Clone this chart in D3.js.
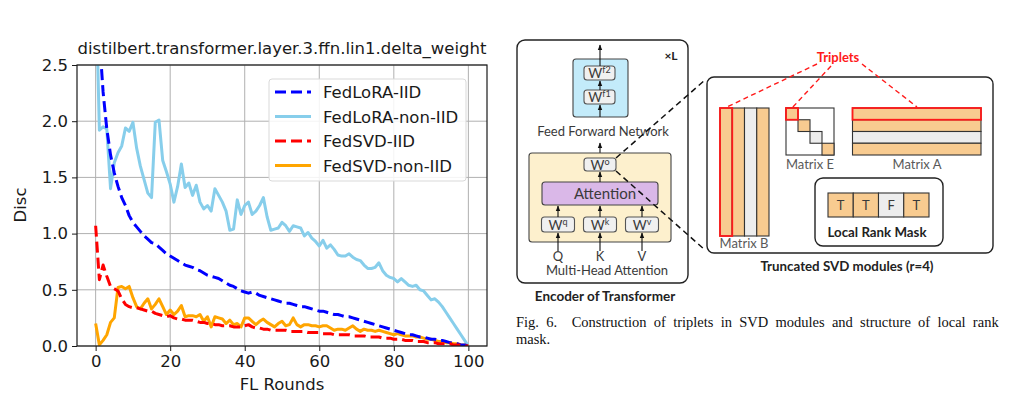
<!DOCTYPE html>
<html>
<head>
<meta charset="utf-8">
<script src="https://cdn.jsdelivr.net/npm/d3@7"></script>
<style>
  body { margin: 0; background: #fff; }
  svg { display: block; }
</style>
</head>
<body>
<svg id="fig" width="1019" height="408"></svg>
<script>
// ---- chart data ----
const rounds = d3.range(0, 101);
const fedLoraIID = [3.6,2.75,2.26,1.93,1.70,1.54,1.42,1.32,1.25,1.16,1.10,1.06,1.02,0.98,0.95,0.92,0.91,0.88,0.85,0.82,
  0.80,0.78,0.76,0.74,0.72,0.71,0.70,0.68,0.67,0.65,0.63,0.62,0.61,0.60,0.58,0.56,0.54,0.53,0.51,0.49,
  0.48,0.47,0.48,0.47,0.45,0.44,0.43,0.42,0.41,0.40,0.39,0.38,0.38,0.37,0.36,0.35,0.35,0.34,0.33,0.32,
  0.31,0.31,0.30,0.29,0.28,0.28,0.27,0.26,0.26,0.25,0.24,0.23,0.22,0.21,0.20,0.19,0.18,0.17,0.16,0.15,
  0.14,0.13,0.12,0.11,0.10,0.10,0.09,0.08,0.08,0.07,0.06,0.06,0.05,0.05,0.04,0.03,0.03,0.02,0.01,0.01,0];
const fedLoraNonIID = [3.3,1.92,1.95,1.93,1.40,1.63,1.72,1.78,1.94,1.91,1.99,1.76,1.60,1.48,1.36,1.32,1.99,2.01,1.65,1.55,
  1.44,1.28,1.42,1.62,1.41,1.45,1.34,1.43,1.28,1.22,1.25,1.20,1.40,1.34,1.28,1.20,1.03,1.04,1.30,1.17,
  1.25,1.28,1.17,1.20,1.25,1.32,1.15,1.03,1.04,1.05,1.10,1.07,1.02,1.07,1.06,1.05,0.98,1.01,0.96,0.93,
  0.89,0.94,0.87,0.90,0.86,0.81,0.80,0.80,0.82,0.79,0.77,0.76,0.72,0.69,0.69,0.70,0.74,0.67,0.63,0.61,
  0.60,0.57,0.60,0.57,0.54,0.53,0.54,0.50,0.49,0.45,0.41,0.42,0.39,0.35,0.30,0.25,0.20,0.15,0.10,0.05,0];
const fedSvdIID = [1.07,0.59,0.72,0.62,0.53,0.51,0.49,0.42,0.37,0.35,0.34,0.34,0.33,0.32,0.31,0.31,0.29,0.28,0.27,0.26,
  0.27,0.25,0.24,0.24,0.23,0.23,0.23,0.22,0.21,0.21,0.20,0.20,0.19,0.19,0.18,0.18,0.18,0.17,0.17,0.17,
  0.18,0.19,0.17,0.16,0.16,0.15,0.15,0.14,0.14,0.14,0.14,0.14,0.13,0.13,0.13,0.13,0.13,0.12,0.12,0.12,
  0.12,0.11,0.11,0.11,0.10,0.10,0.10,0.10,0.10,0.09,0.09,0.09,0.09,0.08,0.08,0.08,0.08,0.07,0.07,0.07,
  0.06,0.06,0.06,0.05,0.05,0.05,0.04,0.04,0.04,0.03,0.03,0.03,0.02,0.02,0.02,0.02,0.01,0.01,0.01,0.0,0];
const fedSvdNonIID = [0.20,0.01,0.05,0.10,0.21,0.25,0.52,0.53,0.51,0.53,0.43,0.35,0.33,0.38,0.42,0.33,0.37,0.42,0.35,0.28,
  0.32,0.28,0.31,0.36,0.26,0.27,0.27,0.26,0.28,0.22,0.26,0.17,0.26,0.25,0.24,0.20,0.23,0.19,0.20,0.17,
  0.25,0.25,0.22,0.19,0.22,0.24,0.21,0.19,0.17,0.20,0.22,0.18,0.19,0.25,0.19,0.17,0.19,0.19,0.18,0.18,
  0.17,0.18,0.18,0.16,0.14,0.15,0.15,0.14,0.16,0.18,0.15,0.13,0.15,0.14,0.14,0.13,0.14,0.13,0.12,0.11,
  0.10,0.11,0.10,0.09,0.09,0.09,0.08,0.08,0.07,0.06,0.06,0.05,0.04,0.04,0.03,0.03,0.02,0.02,0.01,0.01,0];
const seriesNames = ["FedLoRA-IID", "FedLoRA-non-IID", "FedSVD-IID", "FedSVD-non-IID"];
const seriesValues = [fedLoraIID, fedLoraNonIID, fedSvdIID, fedSvdNonIID];
const xTicks = [0, 20, 40, 60, 80, 100];
const yTicks = [0, 0.5, 1.0, 1.5, 2.0, 2.5];

// ---- diagram labels ----
const matrixRanks = [true, true, false, true];   // kept / dropped rank
const maskLabels = ["T", "T", "F", "T"];

const svg = d3.select("#fig");
const colors = ["#0000ff", "#87ceeb", "#ff0000", "#ffa500"];
const dashes = ["11,5", null, "11,5", null];

// ================= line chart =================
const box = {left: 77, right: 487, top: 65, bottom: 346};
const x = d3.scaleLinear().domain([-5, 105]).range([box.left, box.right]);
const y = d3.scaleLinear().domain([0, 2.5]).range([box.bottom, box.top]);
const chartFont = "DejaVu Sans, sans-serif";
const fs = 16.5;

svg.append("defs").append("clipPath").attr("id", "plotclip")
  .append("rect").attr("x", box.left).attr("y", box.top)
  .attr("width", box.right - box.left).attr("height", box.bottom - box.top);

// grid
const grid = svg.append("g");
grid.selectAll(".gx").data(xTicks).join("line")
  .attr("x1", d => x(d)).attr("x2", d => x(d))
  .attr("y1", box.top).attr("y2", box.bottom)
  .attr("stroke", "#b0b0b0").attr("stroke-width", 1);
grid.selectAll(".gy").data(yTicks).join("line")
  .attr("x1", box.left).attr("x2", box.right)
  .attr("y1", d => y(d)).attr("y2", d => y(d))
  .attr("stroke", "#b0b0b0").attr("stroke-width", 1);

// lines
const line = d3.line().x((d, i) => x(rounds[i])).y(d => y(d));
const plot = svg.append("g").attr("clip-path", "url(#plotclip)");
[1, 3, 0, 2].forEach(k => {
  plot.append("path")
    .datum(seriesValues[k])
    .attr("fill", "none")
    .attr("stroke", colors[k])
    .attr("stroke-width", 3)
    .attr("stroke-dasharray", dashes[k])
    .attr("stroke-linejoin", "round")
    .attr("d", line);
});

// axes
const xAxis = svg.append("g").attr("transform", `translate(0,${box.bottom})`)
  .call(d3.axisBottom(x).tickValues(xTicks).tickSize(5).tickPadding(4));
const yAxis = svg.append("g").attr("transform", `translate(${box.left},0)`)
  .call(d3.axisLeft(y).tickValues(yTicks).tickFormat(d3.format(".1f")).tickSize(5).tickPadding(4));
[xAxis, yAxis].forEach(a => {
  a.select(".domain").remove();
  a.selectAll("text").attr("font-family", chartFont).attr("font-size", fs).attr("fill", "#1a1a1a");
  a.selectAll("line").attr("stroke", "#1a1a1a");
});
svg.append("rect").attr("x", box.left).attr("y", box.top)
  .attr("width", box.right - box.left).attr("height", box.bottom - box.top)
  .attr("fill", "none").attr("stroke", "#1a1a1a").attr("stroke-width", 1.2);

svg.append("text").attr("x", (box.left + box.right) / 2).attr("y", 54)
  .attr("text-anchor", "middle").attr("font-family", chartFont).attr("font-size", fs)
  .attr("fill", "#1a1a1a")
  .text("distilbert.transformer.layer.3.ffn.lin1.delta_weight");
svg.append("text").attr("x", (box.left + box.right) / 2).attr("y", 390)
  .attr("text-anchor", "middle").attr("font-family", chartFont).attr("font-size", fs)
  .attr("fill", "#1a1a1a").text("FL Rounds");
svg.append("text").attr("transform", "translate(26,205) rotate(-90)")
  .attr("text-anchor", "middle").attr("font-family", chartFont).attr("font-size", fs)
  .attr("fill", "#1a1a1a").text("Disc");

// legend
const lg = svg.append("g");
lg.append("rect").attr("x", 269).attr("y", 79).attr("width", 197).attr("height", 102)
  .attr("rx", 3).attr("fill", "#fff").attr("fill-opacity", 0.85)
  .attr("stroke", "#d9d9d9").attr("stroke-width", 1);
seriesNames.forEach((name, i) => {
  const cy = 92 + i * 24.5;
  lg.append("line").attr("x1", 275).attr("x2", 311).attr("y1", cy).attr("y2", cy)
    .attr("stroke", colors[i]).attr("stroke-width", 3).attr("stroke-dasharray", dashes[i]);
  lg.append("text").attr("x", 323).attr("y", cy + 6)
    .attr("font-family", chartFont).attr("font-size", fs).attr("fill", "#1a1a1a").text(name);
});

// ================= diagram =================
const dFont = "Lato, 'Open Sans', sans-serif";
const orange = "#f8cb90", grey = "#ededed", ink = "#3a3a3a";
const defs = svg.select("defs");
defs.append("marker").attr("id", "arr").attr("viewBox", "0 0 10 10")
  .attr("refX", 9).attr("refY", 5).attr("markerWidth", 5).attr("markerHeight", 5)
  .attr("orient", "auto")
  .append("path").attr("d", "M0,1 L10,5 L0,9 Z").attr("fill", "#111");

const dg = svg.append("g");
function rrect(x0, y0, w, h, r, fill, stroke, sw) {
  return dg.append("rect").attr("x", x0).attr("y", y0).attr("width", w).attr("height", h)
    .attr("rx", r).attr("fill", fill).attr("stroke", stroke).attr("stroke-width", sw);
}
function arrow(x0, y0, x1, y1) {
  dg.append("line").attr("x1", x0).attr("y1", y0).attr("x2", x1).attr("y2", y1)
    .attr("stroke", "#111").attr("stroke-width", 1.1).attr("marker-end", "url(#arr)");
}
function label(tx, ty, txt, size, opts = {}) {
  return dg.append("text").attr("x", tx).attr("y", ty).attr("text-anchor", "middle")
    .attr("font-family", dFont).attr("font-size", size)
    .attr("font-weight", opts.bold ? "bold" : "normal")
    .attr("fill", opts.fill || ink).text(txt);
}
function wbox(x0, y0, w, h, sup) {
  rrect(x0, y0, w, h, 3, "#f0f0f0", "#555", 1.1);
  const t = label(x0 + w / 2, y0 + h / 2 + 5, "W", 13.5);
  t.append("tspan").attr("font-size", 9).attr("baseline-shift", "super").text(sup);
}

// encoder
rrect(517, 40, 171, 243, 8, "#fff", "#222", 1.4);
label(671, 60, "×L", 12, {bold: true, fill: "#222"});
rrect(573, 59, 55, 58, 3, "#c3ebfa", "#444", 1.1);
wbox(584, 66, 31, 14, "f2");
wbox(584, 90, 31, 14, "f1");
arrow(600, 66, 600, 45);
arrow(600, 90, 600, 81);
arrow(600, 117, 600, 105);
label(603, 136, "Feed Forward Network", 13);
arrow(600, 158, 600, 143);

rrect(529, 153, 142, 89, 3, "#fdf0cd", "#444", 1.1);
wbox(584, 158, 32, 13, "o");
rrect(542, 182, 116, 23, 3, "#dab8e8", "#444", 1.1);
label(605, 198.5, "Attention", 15);
arrow(600, 182, 600, 172);
const qkv = [["q", "Q", 558], ["k", "K", 600], ["v", "V", 642]];
qkv.forEach(([s, l, cx]) => {
  wbox(cx - 16.5, 217, 33, 15, s);
  arrow(cx, 217, cx, 206);
  arrow(cx, 251, cx, 233);
  label(cx, 260.5, l, 13);
});
label(607, 275, "Multi-Head Attention", 13);
label(605, 301, "Encoder of Transformer", 13.5, {bold: true, fill: "#222"});

// black dashed zoom lines
dg.append("line").attr("x1", 616).attr("y1", 158).attr("x2", 705).attr("y2", 80)
  .attr("stroke", "#111").attr("stroke-width", 1.5).attr("stroke-dasharray", "6,4");
dg.append("line").attr("x1", 616).attr("y1", 171).attr("x2", 705).attr("y2", 250)
  .attr("stroke", "#111").attr("stroke-width", 1.5).attr("stroke-dasharray", "6,4");

// truncated SVD box
rrect(707, 77, 286, 176, 7, "#fff", "#222", 1.4);
const bx = d3.scaleBand().domain(d3.range(4)).range([720, 769]);
const ay = d3.scaleBand().domain(d3.range(4)).range([108, 155]);
const ed = d3.scaleBand().domain(d3.range(4)).range([786, 834]);
const edy = d3.scaleBand().domain(d3.range(4)).range([108, 155]);
matrixRanks.forEach((kept, i) => {
  const f = kept ? orange : grey;
  rrect(bx(i), 108, bx.bandwidth(), 128, 0, f, "#333", 1.1);
  rrect(852.5, ay(i), 128.5, ay.bandwidth(), 0, f, "#333", 1.1);
});
rrect(786, 108, 48, 47, 0, "#fff", "#333", 1.1);
matrixRanks.forEach((kept, i) => {
  rrect(ed(i), edy(i), ed.bandwidth(), edy.bandwidth(), 0, kept ? orange : grey, "#333", 1.1);
});
// red outlines of the first triplet
rrect(bx(0), 108, bx.bandwidth(), 128, 0, "none", "#ff1a1a", 1.8);
rrect(ed(0), edy(0), ed.bandwidth(), edy.bandwidth(), 0, "none", "#ff1a1a", 1.8);
rrect(852.5, ay(0), 128.5, ay.bandwidth(), 0, "none", "#ff1a1a", 1.8);

label(744, 248, "Matrix B", 13, {fill: "#595959"});
label(810, 169, "Matrix E", 13, {fill: "#595959"});
label(917, 169, "Matrix A", 13, {fill: "#595959"});

label(838, 62, "Triplets", 13, {bold: true, fill: "#ff1a1a"});
[[817, 64, 727, 107], [831, 66, 792, 108], [862, 64, 917, 107]].forEach(([a, b, c, d]) => {
  dg.append("line").attr("x1", a).attr("y1", b).attr("x2", c).attr("y2", d)
    .attr("stroke", "#ff1a1a").attr("stroke-width", 1.4).attr("stroke-dasharray", "5,3.5");
});

// local rank mask
rrect(815, 178, 128, 68, 8, "#fff", "#222", 1.4);
const mx = d3.scaleBand().domain(d3.range(4)).range([828, 929]);
maskLabels.forEach((m, i) => {
  rrect(mx(i), 193, mx.bandwidth(), 24, 0, matrixRanks[i] ? orange : grey, "#333", 1.1);
  label(mx(i) + mx.bandwidth() / 2, 210, m, 13);
});
label(877, 236.5, "Local Rank Mask", 13.3, {bold: true, fill: "#222"});
label(847, 270.5, "Truncated SVD modules (r=4)", 13.3, {bold: true, fill: "#222"});

// caption, justified on its first line
const cap = "Liberation Serif, 'Times New Roman', serif";
const c1 = svg.append("text").attr("x", 516).attr("y", 327).attr("font-family", cap)
  .attr("font-size", 14.5).attr("fill", "#111")
  .text("Fig. 6.  Construction of triplets in SVD modules and structure of local rank")
  .style("white-space", "pre");
const natural = c1.node().getComputedTextLength();
const gaps = 12;
c1.attr("word-spacing", Math.max(0, (479 - natural) / gaps));
svg.append("text").attr("x", 516).attr("y", 344).attr("font-family", cap).attr("font-size", 14.5)
  .attr("fill", "#111").text("mask.");
</script>
</body>
</html>
